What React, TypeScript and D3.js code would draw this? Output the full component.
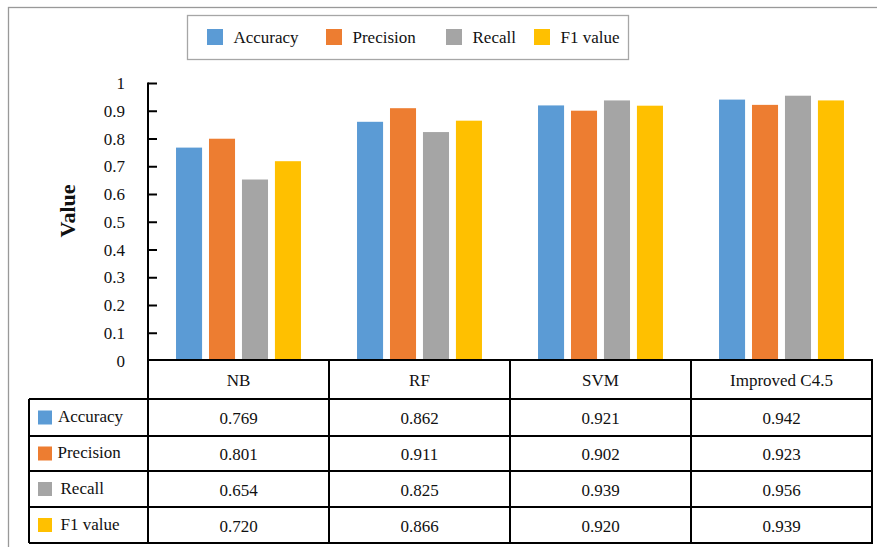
import React from "react";
import * as d3 from "d3";

const categories = ["NB", "RF", "SVM", "Improved C4.5"];
const seriesNames = ["Accuracy", "Precision", "Recall", "F1 value"];
const accuracy = [0.769, 0.862, 0.921, 0.942];
const precision = [0.801, 0.911, 0.902, 0.923];
const recall = [0.654, 0.825, 0.939, 0.956];
const f1 = [0.72, 0.866, 0.92, 0.939];
const yTicks = [0, 0.1, 0.2, 0.3, 0.4, 0.5, 0.6, 0.7, 0.8, 0.9, 1];
const colors = ["#5B9BD5", "#ED7D31", "#A5A5A5", "#FFC000"];

const seriesValues = [accuracy, precision, recall, f1];

export default function App() {
  const W = 877;
  const H = 547;
  const plotLeft = 148;
  const plotRight = 872;
  const y0 = 361;
  const y1 = 83.5;
  const font = "Liberation Serif, serif";
  const fs = 17;

  const x0 = d3.scaleBand<string>().domain(categories).range([plotLeft, plotRight]).padding(0);
  const x1 = d3
    .scaleBand<string>()
    .domain(seriesNames)
    .range([0, x0.bandwidth()])
    .paddingInner(0.21)
    .paddingOuter(0.85);
  const y = d3.scaleLinear().domain([0, 1]).range([y0, y1]);

  const headerTop = 360;
  const rowBounds = [399, 436, 471, 507, 543];
  const tableLeft = 29;
  const labelOffsets = [0, -0.5, 2.5, 2.5];

  const legendX = [207, 326, 446, 534];
  const ts = { fontFamily: font };

  return (
    <svg
      width={W}
      height={H}
      style={{ position: "absolute", left: 0, top: 0, background: "#fff", fontFamily: font }}
    >
      <rect x={0} y={0} width={W} height={H} fill="#fff" />
      <rect x={8.5} y={7.5} width={W + 20} height={H + 20} fill="none" stroke="#999" strokeWidth={1.3} />

      {/* Legend */}
      <rect x={187.5} y={15.5} width={441} height={44} fill="#fff" stroke="#a6a6a6" strokeWidth={1.3} />
      {seriesNames.map((s, i) => (
        <g key={s}>
          <rect x={legendX[i]} y={29} width={16} height={16} fill={colors[i]} />
          <text x={legendX[i] + 26.5} y={43} fontSize={fs} fill="#111" style={ts}>
            {s}
          </text>
        </g>
      ))}

      {/* Y axis label */}
      <text
        transform={`translate(75,211) rotate(-90)`}
        textAnchor="middle"
        fontSize={22}
        fontWeight="bold"
        fill="#111"
        style={ts}
      >
        Value
      </text>

      {/* Bars */}
      {categories.map((c, ci) => (
        <g key={c} transform={`translate(${x0(c)},0)`}>
          {seriesNames.map((s, si) => {
            const v = seriesValues[si][ci];
            return (
              <rect
                key={s}
                x={x1(s)}
                y={y(v)}
                width={x1.bandwidth()}
                height={y0 - y(v)}
                fill={colors[si]}
              />
            );
          })}
        </g>
      ))}

      {/* Y axis */}
      <line x1={plotLeft} x2={plotLeft} y1={y(1) - 1} y2={y0} stroke="#000" strokeWidth={2} />
      {yTicks.map((t) => (
        <g key={t}>
          {t > 0 && (
            <line x1={plotLeft} x2={plotLeft + 9} y1={y(t)} y2={y(t)} stroke="#000" strokeWidth={2} />
          )}
          <text x={125} y={y(t) + 5.5} textAnchor="end" fontSize={fs} fill="#111" style={ts}>
            {t === 0 ? "0" : t === 1 ? "1" : d3.format(".1f")(t)}
          </text>
        </g>
      ))}

      {/* Table */}
      <g stroke="#000" strokeWidth={2} fill="none">
        <line x1={plotLeft - 1} x2={plotRight + 1} y1={headerTop} y2={headerTop} />
        {rowBounds.map((yy) => (
          <line key={yy} x1={tableLeft} x2={plotRight + 1} y1={yy} y2={yy} />
        ))}
        <line x1={tableLeft} x2={tableLeft} y1={rowBounds[0]} y2={rowBounds[rowBounds.length - 1]} />
        <line x1={plotLeft} x2={plotLeft} y1={headerTop} y2={rowBounds[rowBounds.length - 1]} />
        {categories.map((c) => (
          <line
            key={c}
            x1={(x0(c) as number) + x0.bandwidth()}
            x2={(x0(c) as number) + x0.bandwidth()}
            y1={headerTop}
            y2={rowBounds[rowBounds.length - 1]}
          />
        ))}
      </g>
      {categories.map((c) => (
        <text
          key={c}
          x={(x0(c) as number) + x0.bandwidth() / 2}
          y={386}
          textAnchor="middle"
          fontSize={fs}
          fill="#111"
          style={ts}
        >
          {c}
        </text>
      ))}
      {seriesNames.map((s, si) => {
        const top = rowBounds[si];
        const bottom = rowBounds[si + 1];
        const cy = (top + bottom) / 2;
        return (
          <g key={s}>
            <rect x={38} y={cy - 7} width={14} height={14} fill={colors[si]} />
            <text x={58 + labelOffsets[si]} y={cy + 4.5} fontSize={fs} fill="#111" style={ts}>
              {s}
            </text>
            {categories.map((c, ci) => (
              <text
                key={c}
                x={(x0(c) as number) + x0.bandwidth() / 2}
                y={cy + 6.5}
                textAnchor="middle"
                fontSize={fs}
                fill="#111"
                style={ts}
              >
                {d3.format(".3f")(seriesValues[si][ci])}
              </text>
            ))}
          </g>
        );
      })}
    </svg>
  );
}
